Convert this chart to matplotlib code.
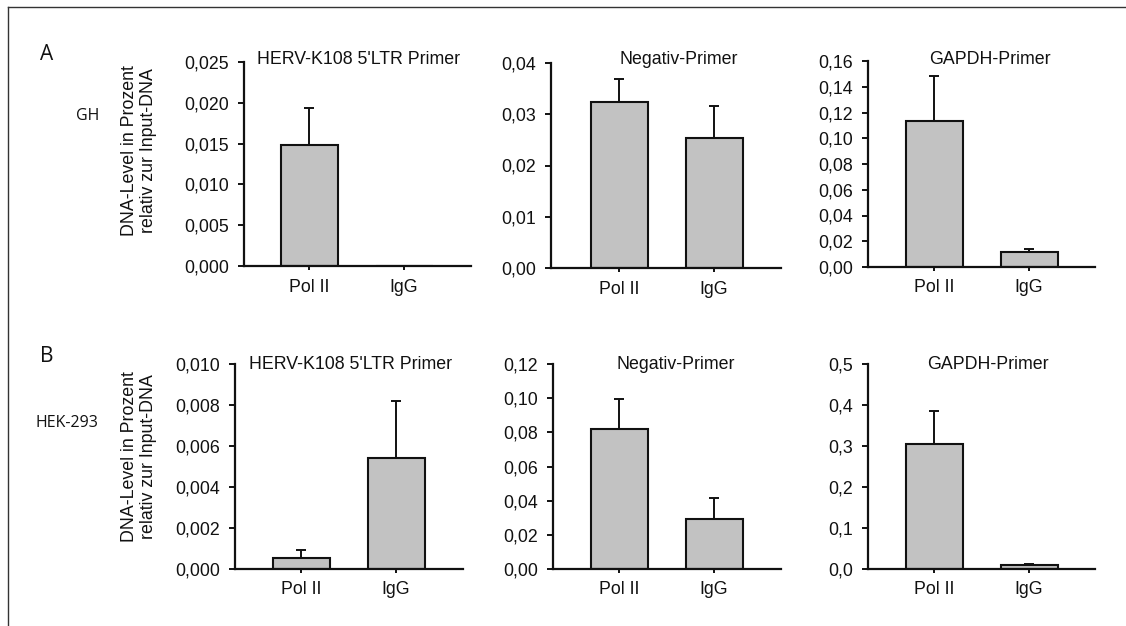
import matplotlib
matplotlib.use("Agg")
import matplotlib.pyplot as plt
from matplotlib.lines import Line2D

# ---------------- data ----------------
categories = ["Pol II", "IgG"]

titles = ["HERV-K108 5'LTR Primer", "Negativ-Primer", "GAPDH-Primer",
          "HERV-K108 5'LTR Primer", "Negativ-Primer", "GAPDH-Primer"]

# Row A (GH)
herv_gh = [0.0148, 0.00005]
herv_gh_err = [0.0046, 0.0]
neg_gh = [0.0323, 0.0253]
neg_gh_err = [0.0046, 0.0063]
gapdh_gh = [0.1136, 0.0114]
gapdh_gh_err = [0.0350, 0.0026]

# Row B (HEK-293)
herv_hek = [0.00055, 0.0054]
herv_hek_err = [0.0004, 0.0028]
neg_hek = [0.0817, 0.0295]
neg_hek_err = [0.0178, 0.0118]
gapdh_hek = [0.306, 0.0098]
gapdh_hek_err = [0.080, 0.0024]

values = [herv_gh, neg_gh, gapdh_gh, herv_hek, neg_hek, gapdh_hek]
errors = [herv_gh_err, neg_gh_err, gapdh_gh_err, herv_hek_err, neg_hek_err, gapdh_hek_err]

yticks = [
    [0.000, 0.005, 0.010, 0.015, 0.020, 0.025],
    [0.00, 0.01, 0.02, 0.03, 0.04],
    [0.00, 0.02, 0.04, 0.06, 0.08, 0.10, 0.12, 0.14, 0.16],
    [0.000, 0.002, 0.004, 0.006, 0.008, 0.010],
    [0.00, 0.02, 0.04, 0.06, 0.08, 0.10, 0.12],
    [0.0, 0.1, 0.2, 0.3, 0.4, 0.5],
]
ytick_labels = [
    ["0,000", "0,005", "0,010", "0,015", "0,020", "0,025"],
    ["0,00", "0,01", "0,02", "0,03", "0,04"],
    ["0,00", "0,02", "0,04", "0,06", "0,08", "0,10", "0,12", "0,14", "0,16"],
    ["0,000", "0,002", "0,004", "0,006", "0,008", "0,010"],
    ["0,00", "0,02", "0,04", "0,06", "0,08", "0,10", "0,12"],
    ["0,0", "0,1", "0,2", "0,3", "0,4", "0,5"],
]

row_letters = ["A", "B"]
row_names = ["GH", "HEK-293"]
ylabel_text = "DNA-Level in Prozent\nrelativ zur Input-DNA"

# ---------------- layout (pixels) ----------------
W, H = 1126, 626
fig = plt.figure(figsize=(W / 100, H / 100), dpi=100)
fig.patch.set_facecolor("white")

def fx(px):
    return px / W

def fy(py):
    return (H - py) / H

# axes: (left px, right px, top px, bottom px, first category center px)
layout = [
    (244, 471, 62, 266, 309),
    (551, 781, 63, 268, 619),
    (868, 1095, 61, 267, 934),
    (235, 463, 364, 569, 301),
    (553, 781, 364, 569, 619),
    (868, 1095, 364, 569, 934),
]
spacing = 95.0
title_pos = [(359, 63.5), (679, 63.5), (990, 63.5), (351, 369), (676, 369), (988, 369)]

font_main = ["Liberation Sans", "DejaVu Sans"]
font_side = ["Open Sans", "DejaVu Sans"]
fs = 12.8
bar_color = "#c2c2c2"
ink = "#111111"

for i in range(6):
    l, r, t, b, p0 = layout[i]
    ax = fig.add_axes([fx(l), fy(b), (r - l) / W, (b - t) / H])
    ax.set_facecolor("none")
    x = list(range(len(categories)))
    ax.bar(x, values[i], width=0.6, color=bar_color, edgecolor=ink,
           linewidth=1.5, zorder=2)
    ax.errorbar(x, values[i], yerr=[[0, 0], errors[i]], fmt="none",
                ecolor=ink, elinewidth=1.4, capsize=3.5, capthick=1.4, zorder=1)
    ax.set_xlim(-(p0 - l) / spacing, (r - p0) / spacing)
    ax.set_ylim(0, yticks[i][-1])
    ax.set_yticks(yticks[i])
    ax.set_yticklabels(ytick_labels[i], fontfamily=font_main, fontsize=fs)
    ax.set_xticks(x)
    ax.set_xticklabels(categories, fontfamily=font_main, fontsize=fs)
    for s in ("top", "right"):
        ax.spines[s].set_visible(False)
    for s in ("left", "bottom"):
        ax.spines[s].set_linewidth(1.6)
        ax.spines[s].set_color(ink)
    ax.tick_params(axis="y", direction="out", length=4, width=1.4, pad=7, colors=ink)
    ax.tick_params(axis="x", direction="out", length=3, width=1.4, pad=6, colors=ink)
    ax.spines["left"].set_zorder(3)
    ax.spines["bottom"].set_zorder(3)
    tx, ty = title_pos[i]
    fig.text(fx(tx), fy(ty), titles[i], ha="center", va="baseline",
             fontfamily=font_main, fontsize=fs, color=ink)

# row labels
row_letter_pos = [(46.5, 55), (46.5, 357)]
row_name_pos = [(88, 116), (67, 423)]
ylabel_pos = [(139, 151), (139, 457)]
for k in range(2):
    lx, ly = row_letter_pos[k]
    fig.text(fx(lx), fy(ly), row_letters[k], ha="center", va="center",
             fontfamily=font_side, fontsize=15, color=ink)
    nx, ny = row_name_pos[k]
    fig.text(fx(nx), fy(ny), row_names[k], ha="center", va="center",
             fontfamily=font_side, fontsize=11.5, color=ink)
    yx, yy = ylabel_pos[k]
    fig.text(fx(yx), fy(yy), ylabel_text, ha="center", va="center",
             rotation=90, multialignment="center", linespacing=1.15,
             fontfamily=font_main, fontsize=fs, color=ink)

# frame lines (top and left)
fig.add_artist(Line2D([fx(8), fx(W)], [fy(7), fy(7)], color="#333333", linewidth=1.0))
fig.add_artist(Line2D([fx(8), fx(8)], [fy(7), fy(H)], color="#333333", linewidth=1.0))

fig.savefig("out.png", dpi=100, facecolor="white")
